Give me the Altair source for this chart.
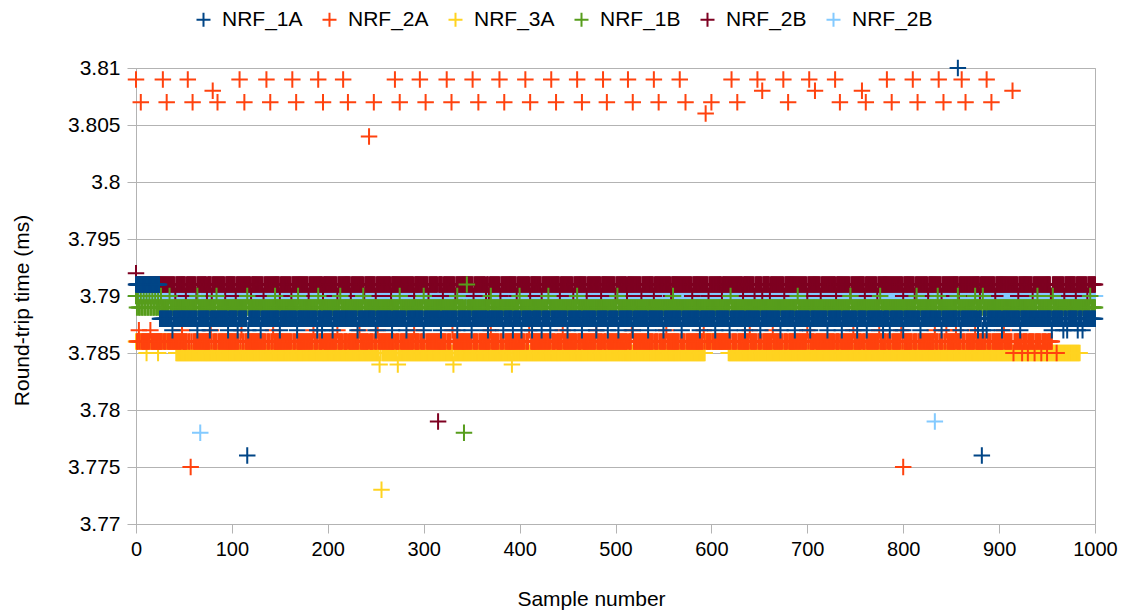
import altair as alt
import pandas as pd

# ---------------- data ----------------
SERIES = ["NRF_1A", "NRF_2A", "NRF_3A", "NRF_1B", "NRF_2B", "NRF_2B "]
COLORS = ["#004586", "#ff420e", "#ffd320", "#579d1c", "#7e0021", "#83caff"]
X_TICKS = [0, 100, 200, 300, 400, 500, 600, 700, 800, 900, 1000]
Y_TICKS = [3.77, 3.775, 3.78, 3.785, 3.79, 3.795, 3.8, 3.805, 3.81]

# NRF_1A (blue)
A1_RUNS = [(0, 24, 3.791), (25, 1000, 3.788)]
A1_AT_3787 = [38, 64, 77, 96, 106, 117, 130, 150, 168, 189, 194, 205, 231, 250,
              267, 282, 300, 318, 335, 350, 367, 383, 393, 402, 413, 423, 432,
              450, 465, 480, 492, 503, 518, 534, 550, 569, 588, 604, 619, 635,
              651, 672, 687, 703, 721, 736, 752, 762, 779, 786, 800, 818, 840,
              860, 878, 883, 887, 903, 922, 955, 967, 971, 982, 987]
A1_OUTLIERS = [(116, 3.776), (857, 3.810), (882, 3.776)]

# NRF_2A (orange)
A2_RUNS = [(0, 955, 3.786)]
A2_AT_3787 = [3, 15, 48, 78, 110, 143, 185, 210, 233, 252, 290, 330, 370, 410,
              445, 480, 517, 553, 592, 640, 664, 700, 748, 775, 798, 833, 845,
              855, 875, 905]
A2_AT_3785 = [915, 924, 930, 937, 944, 950, 960]
A2_AT_3809 = [0, 28, 54, 108, 136, 163, 190, 216, 270, 296, 324, 351, 379, 406,
              433, 460, 487, 513, 540, 567, 621, 648, 675, 702, 729, 783, 810,
              837, 861, 887]
A2_AT_3807 = [5, 32, 59, 85, 113, 140, 167, 195, 221, 248, 275, 302, 329, 357,
              384, 411, 438, 465, 491, 518, 545, 573, 600, 627, 680, 734, 761,
              788, 815, 842, 865, 892]
A2_OUTLIERS = [(80, 3.808), (653, 3.808), (708, 3.808), (757, 3.808),
               (914, 3.808), (594, 3.806), (243, 3.804), (57, 3.775), (800, 3.775)]

# NRF_3A (yellow)
A3_RUNS = [(0, 41, 3.786), (42, 593, 3.785), (594, 617, 3.786), (618, 984, 3.785)]
A3_OUTLIERS = [(11, 3.785), (23, 3.785), (254, 3.784), (273, 3.784),
               (331, 3.784), (392, 3.784), (256, 3.773)]

# NRF_1B (green)
B1_RUNS = [(0, 1000, 3.789)]
B1_AT_3790 = [0, 2, 5, 8, 11, 14, 17, 20, 23, 26, 35, 64, 84, 116, 145, 169,
              190, 213, 237, 275, 300, 335, 370, 400, 430, 460, 502, 560, 620,
              690, 745, 776, 814, 836, 857, 875, 883, 940, 956, 995]
B1_OUTLIERS = [(345, 3.791), (342, 3.778)]

# NRF_2B (maroon)
B2_RUNS = [(0, 1000, 3.791)]
B2_AT_3790 = [41, 52, 63, 74, 79, 93, 104, 120, 133, 150, 162, 180, 195, 210,
              224, 238, 250, 266, 290, 305, 320, 333, 352, 365, 368, 380, 397,
              411, 423, 442, 456, 470, 485, 500, 512, 527, 540, 558, 580, 597,
              611, 633, 645, 653, 661, 676, 700, 714, 730, 745, 760, 773, 800,
              812, 826, 840, 858, 880, 896, 920, 935, 954, 955, 968, 980, 992]
B2_OUTLIERS = [(0, 3.792), (315, 3.779)]

# NRF_2B (light blue, second series)
B3_RUNS = [(0, 1000, 3.790)]
B3_OUTLIERS = [(67, 3.778), (833, 3.779)]


def build(runs, groups):
    vals = {}
    for start, end, v in runs:
        for i in range(start, end + 1):
            vals[i] = v
    for idx_list, v in groups:
        for i in idx_list:
            vals[i] = v
    return vals


def outl(pairs):
    return [([i], v) for i, v in pairs]


series_vals = {
    "NRF_1A": build(A1_RUNS, [(A1_AT_3787, 3.787)] + outl(A1_OUTLIERS)),
    "NRF_2A": build(A2_RUNS, [(A2_AT_3787, 3.787), (A2_AT_3785, 3.785),
                              (A2_AT_3809, 3.809), (A2_AT_3807, 3.807)] + outl(A2_OUTLIERS)),
    "NRF_3A": build(A3_RUNS, outl(A3_OUTLIERS)),
    "NRF_1B": build(B1_RUNS, [(B1_AT_3790, 3.790)] + outl(B1_OUTLIERS)),
    "NRF_2B": build(B2_RUNS, [(B2_AT_3790, 3.790)] + outl(B2_OUTLIERS)),
    "NRF_2B ": build(B3_RUNS, outl(B3_OUTLIERS)),
}

rows = []
# first series is drawn on top, so emit in reverse order
for s in reversed(SERIES):
    for i in sorted(series_vals[s]):
        rows.append({"sample": i, "rtt": series_vals[s][i], "series": s})
df = pd.DataFrame(rows)

CROSS = "M-1,0L1,0M0,-1L0,1"
FONT = "Liberation Sans"
GRID = "#b3b3b3"

chart = alt.Chart(df).mark_point(
    shape=CROSS, filled=False, strokeWidth=2, size=272, opacity=1
).encode(
    x=alt.X("sample:Q",
            scale=alt.Scale(domain=[0, 1000], nice=False),
            axis=alt.Axis(values=X_TICKS, format="d", grid=False,
                          labelFlush=False, labelFontSize=20,
                          title="Sample number",
                          titleX=455, titleY=75, titleBaseline="middle",
                          titleAlign="center", labelPadding=6)),
    y=alt.Y("rtt:Q",
            scale=alt.Scale(domain=[3.77, 3.81], nice=False, zero=False),
            axis=alt.Axis(values=Y_TICKS, format=".3~f", grid=True,
                          labelFlush=False,
                          title="Round-trip time (ms)", titleX=-114, titleY=242,
                          titleAngle=270, titleBaseline="middle",
                          titleAlign="center", labelPadding=7)),
    color=alt.Color("series:N",
                    scale=alt.Scale(domain=SERIES, range=COLORS),
                    legend=alt.Legend(title=None, orient="none", legendX=57,
                                      legendY=-59, direction="horizontal",
                                      symbolType=CROSS, symbolSize=196,
                                      symbolStrokeWidth=2, labelFontSize=21,
                                      labelFont=FONT, labelColor="black",
                                      labelOffset=8, columnPadding=15,
                                      gridAlign="all")),
).properties(
    width=959, height=456,
    padding={"left": 128, "top": 60, "right": 23, "bottom": 88},
    autosize=alt.AutoSizeParams(type="none"),
).configure_axis(
    labelFont=FONT, labelFontSize=21, labelColor="black",
    titleFont=FONT, titleFontSize=21, titleFontWeight="normal", titleColor="black",
    domainColor=GRID, tickColor=GRID, gridColor=GRID, tickSize=9,
).configure_view(stroke=GRID)

chart.save("out.html", embed_options={"renderer": "svg", "actions": False})
